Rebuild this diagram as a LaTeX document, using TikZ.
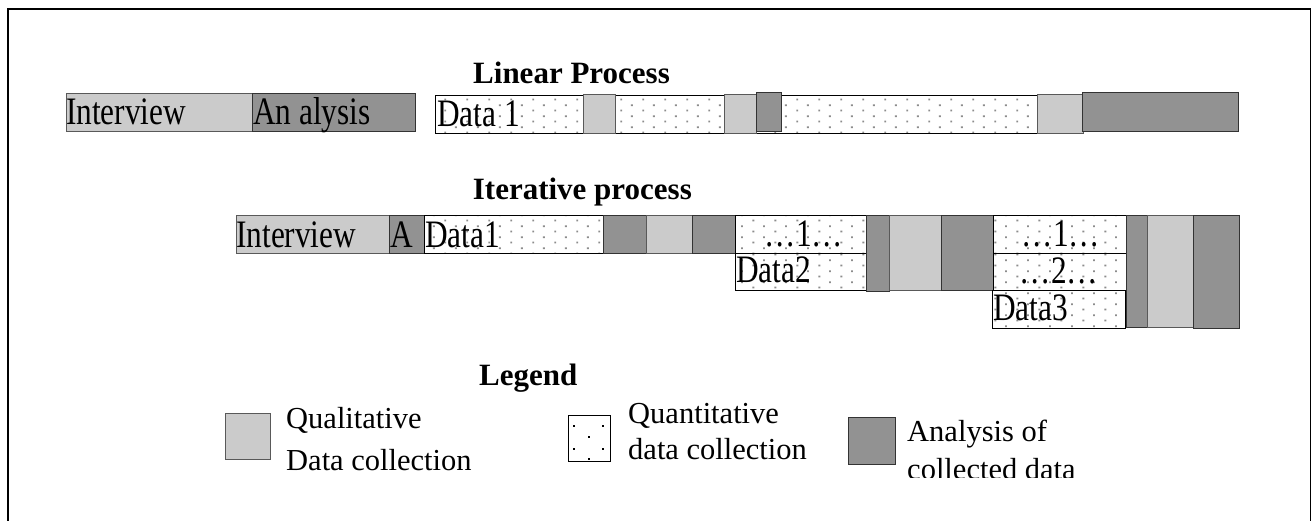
\documentclass[tikz,border=0pt]{standalone}
\usepackage{fontspec}
\setmainfont{Liberation Serif}
\usetikzlibrary{patterns}
\pgfdeclarepatternformonly{bardots}{\pgfpoint{0pt}{0pt}}{\pgfpoint{22pt}{11pt}}{\pgfpoint{22pt}{11pt}}{%
  \pgfpathrectangle{\pgfpoint{4.6pt}{1.8pt}}{\pgfpoint{1.9pt}{1.9pt}}%
  \pgfpathrectangle{\pgfpoint{15.6pt}{7.3pt}}{\pgfpoint{1.9pt}{1.9pt}}%
  \pgfusepath{fill}}
\definecolor{lightg}{HTML}{CBCBCB}
\definecolor{darkg}{HTML}{929292}
\definecolor{dotg}{HTML}{8C8C8C}
\newcommand{\bartext}[1]{\scalebox{0.87}[1.08]{\fontsize{36}{36}\selectfont #1}}
\newcommand{\titletext}[1]{{\fontsize{31}{31}\selectfont\bfseries #1}}
\newcommand{\legtext}[1]{{\fontsize{30.5}{30.5}\selectfont #1}}
\tikzset{
  qual/.style={fill=lightg, draw=black!65, line width=0.9pt},
  anal/.style={fill=darkg, draw=black!80, line width=0.9pt},
  quant/.style={pattern=bardots, pattern color=dotg, draw=black, line width=0.9pt},
  lbl/.style={inner sep=0pt, anchor=base west},
  lblc/.style={inner sep=0pt, anchor=base},
  frame/.style={draw=black, line width=1.5pt}
}
\begin{document}
\begin{tikzpicture}[x=1pt,y=-1pt]
\useasboundingbox (0,0) rectangle (1316,520);
\fill[white] (0,0) rectangle (1316,520);
% frame
\draw[frame] (8,540) -- (8,9) -- (1310.5,9) -- (1310.5,540);

% ---------- Linear process ----------
\node[lbl] (tlin) at (473,83.5) {\titletext{Linear Process}};
\draw[qual] (66,93) rectangle (252,131);
\draw[anal] (252,93) rectangle (415,131);
\node[lbl] (lint) at (66,124.5) {\bartext{Interview}};
\node[lbl] (lana) at (253,124.5) {\bartext{An alysis}};
\draw[quant] (435,95) rectangle (1038,133);
\node[lbl] (ld1) at (437,126.5) {\bartext{Data 1}};
\draw[qual] (583,94) rectangle (615,133);
\draw[qual] (724,94) rectangle (756,133);
\draw[anal] (756,92) rectangle (781,131);
\draw[qual] (1037,94) rectangle (1083,133);
\draw[anal] (1082,92) rectangle (1238,131);

% ---------- Iterative process ----------
\node[anchor=base east, inner sep=0pt] (tit) at (692,199) {\titletext{Iterative process}};
\draw[qual] (236,215.5) rectangle (389,253.5);
\draw[anal] (389,215.5) rectangle (424,253.5);
\draw[quant] (424,215.5) rectangle (603,253.5);
\node[lbl] (iint) at (236,247) {\bartext{Interview}};
\node[lbl] (ia) at (390,247) {\bartext{A}};
\node[lbl] (id1) at (425,247) {\bartext{Data1}};
\draw[anal] (603,215.5) rectangle (646,253.5);
\draw[qual] (646,215.5) rectangle (692,253.5);
\draw[anal] (692,215.5) rectangle (735,253.5);
\draw[quant] (735,215.5) rectangle (866,253.5);
\draw[quant] (735,253.5) rectangle (866,290.5);
\node[lblc] (i11) at (804,246.5) {\bartext{\dots1\dots}};
\node[lbl] (id2) at (736,282.5) {\bartext{Data2}};
\draw[anal] (866,215.5) rectangle (889,291);
\draw[qual] (889,215.5) rectangle (941,290.5);
\draw[anal] (941,215.5) rectangle (993,290.5);
\draw[quant] (993,215.5) rectangle (1126,253.5);
\draw[quant] (993,253.5) rectangle (1126,290.5);
\draw[quant] (992.5,290.5) rectangle (1125,328);
\node[lblc] (i21) at (1061,246.5) {\bartext{\dots1\dots}};
\node[lblc] (i22) at (1059,283.5) {\bartext{\dots2\dots}};
\node[lbl] (id3) at (993,320) {\bartext{Data3}};
\draw[anal] (1126,215.5) rectangle (1147,327);
\draw[qual] (1147,215.5) rectangle (1193,327);
\draw[anal] (1193,215.5) rectangle (1239,328);

% ---------- Legend ----------
\node[lbl] (tleg) at (479,385) {\titletext{Legend}};
\draw[qual] (225.5,413.5) rectangle (270.5,459);
\node[lbl] (lq1) at (286,428) {\legtext{Qualitative}};
\node[lbl] (lq2) at (286,470) {\legtext{Data collection}};
\draw[draw=black, line width=0.9pt, fill=white] (568,415) rectangle (610,461);
\foreach \px/\py in {574/426, 603/426, 589/437, 574/449, 603/449, 589/459}
  \fill[black] (\px-1,\py-1) rectangle (\px+1,\py+1);
\node[lbl] (ln1) at (628,423) {\legtext{Quantitative}};
\node[lbl] (ln2) at (628,459) {\legtext{data collection}};
\draw[anal] (848,417.5) rectangle (895,464);
\node[lbl] (la1) at (907,441) {\legtext{Analysis of}};
\begin{scope}
  \clip (900,445) rectangle (1120,477.6);
  \node[lbl] (la2) at (907,479.5) {\legtext{collected data}};
\end{scope}
\end{tikzpicture}
\end{document}
